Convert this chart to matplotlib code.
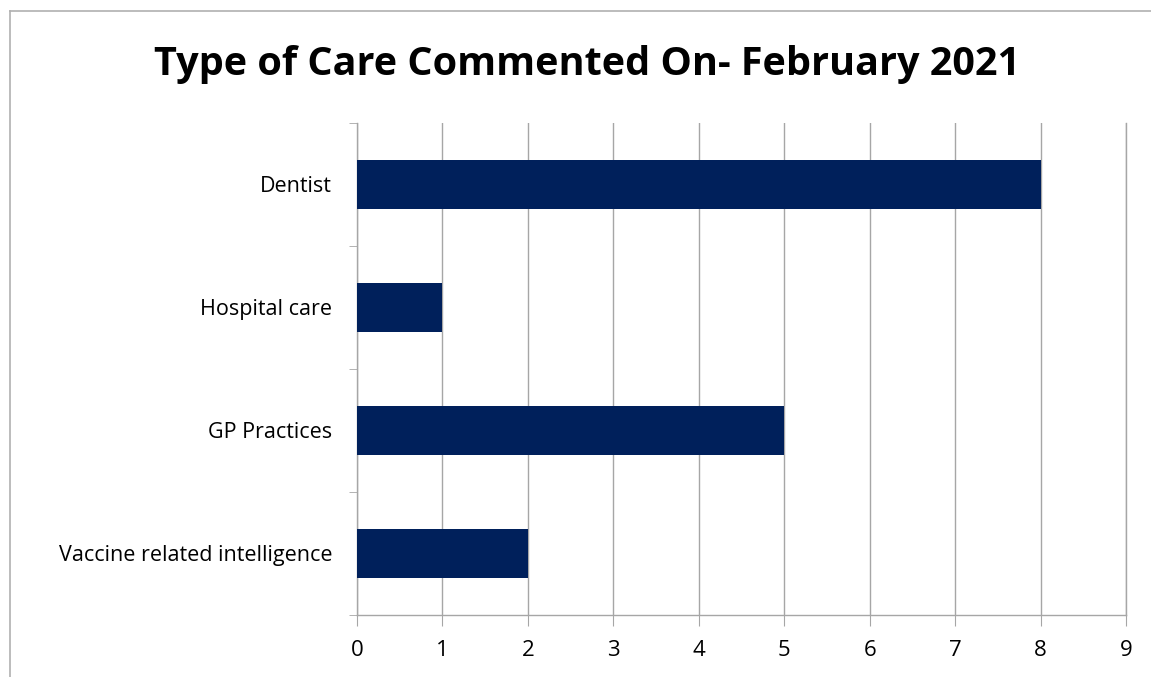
import matplotlib
matplotlib.use("Agg")
import matplotlib.pyplot as plt
from matplotlib.lines import Line2D

categories = ["Vaccine related intelligence", "GP Practices", "Hospital care", "Dentist"]
counts = [2, 5, 1, 8]
x_ticks = list(range(0, 10))

plt.rcParams['font.family'] = ['Open Sans', 'DejaVu Sans']

fig = plt.figure(figsize=(11.51, 6.77), dpi=100)
W, H = 1151, 677
ax = fig.add_axes([357 / W, 1 - 615 / H, (1126 - 357) / W, (615 - 123) / H])

bar_color = "#00205b"
grid_color = "#a6a6a6"

ax.barh(range(len(categories)), counts, height=0.4, color=bar_color, zorder=3)
ax.set_xlim(0, 9)
ax.set_ylim(-0.5, len(categories) - 0.5)
ax.set_xticks(x_ticks)
ax.set_xticklabels([str(t) for t in x_ticks], fontsize=16)
ax.grid(axis="x", color=grid_color, linewidth=1, zorder=0)

# category labels centred on bars, ticks on the boundaries
ax.set_yticks(range(len(categories)))
ax.set_yticklabels(categories, fontsize=15.5)
ax.tick_params(axis="y", length=0, pad=18)
ax.set_yticks([i - 0.5 for i in range(len(categories) + 1)], minor=True)
ax.tick_params(axis="y", which="minor", length=6, color=grid_color, direction="out")
ax.tick_params(axis="x", length=8, color=grid_color, pad=10)

ax.spines["top"].set_visible(False)
for side in ["left", "bottom", "right"]:
    ax.spines[side].set_color(grid_color)
    ax.spines[side].set_linewidth(1)

fig.text(587 / W, 1 - 64 / H, "Type of Care Commented On- February 2021",
         ha="center", va="center", fontsize=28.5, fontweight="bold")

# outer chart border (top and left visible)
fig.add_artist(Line2D([10 / W, 10 / W], [0, 1 - 11 / H], color="#b0b0b0", lw=1.2,
                      transform=fig.transFigure))
fig.add_artist(Line2D([10 / W, 1], [1 - 11 / H, 1 - 11 / H], color="#b0b0b0", lw=1.2,
                      transform=fig.transFigure))

fig.savefig("out.png", dpi=100)
